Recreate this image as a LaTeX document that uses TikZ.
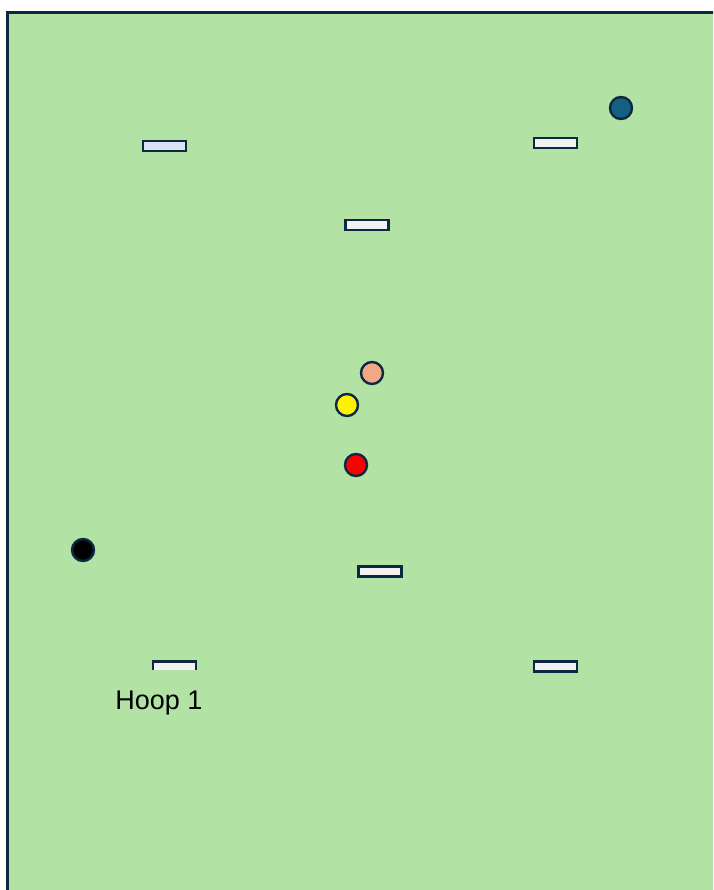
\documentclass[tikz,border=0pt]{standalone}
\usepackage{fontspec}
\setmainfont{Liberation Sans}
\usetikzlibrary{positioning}

\definecolor{fieldgreen}{HTML}{B3E3A4}
\definecolor{edgeblue}{HTML}{0E2841}
\definecolor{hoopwhite}{HTML}{F2F2F2}
\definecolor{hoopblue}{HTML}{DAE3F3}
\definecolor{ballblue}{HTML}{156082}
\definecolor{ballpink}{HTML}{F1A983}

\begin{document}
\begin{tikzpicture}[
  x=1pt,y=-1pt,
  hoop/.style={draw=edgeblue,line width=2.6pt,fill=hoopwhite,rectangle,
    minimum width=43pt,minimum height=10pt,inner sep=0pt},
  ball/.style={draw=edgeblue,line width=2.4pt,circle,minimum size=22pt,inner sep=0pt},
  label/.style={fill=fieldgreen,inner sep=2pt,font=\fontsize{27}{32}\selectfont}
]
  \useasboundingbox (0,0) rectangle (713,890);
  \clip (0,0) rectangle (713,890);
  \draw[edgeblue,line width=3pt,fill=fieldgreen] (7.5,12.5) rectangle (730,910);

  % hoops
  \node[hoop,fill=hoopblue] (h2) at (164.5,146) {};
  \node[hoop] (h3) at (555.5,143) {};
  \node[hoop] (hc) at (367,225) {};
  \node[hoop] (h4) at (380,571.5) {};
  \node[hoop] (h1) at (174.5,666.5) {};
  \node[hoop] (h6) at (555.5,666.5) {};
  \node[label,anchor=north,text height=38pt,text depth=7pt] (t1) at (159,669.5) {Hoop 1};

  % balls
  \node[ball,fill=ballblue] (blue) at (621,108) {};
  \node[ball,fill=ballpink] (pink) at (372,373) {};
  \node[ball,fill=yellow] (yel) at (347,405) {};
  \node[ball,fill=red] (red) at (356,465) {};
  \node[ball,fill=black] (blk) at (83,550) {};
\end{tikzpicture}
\end{document}
